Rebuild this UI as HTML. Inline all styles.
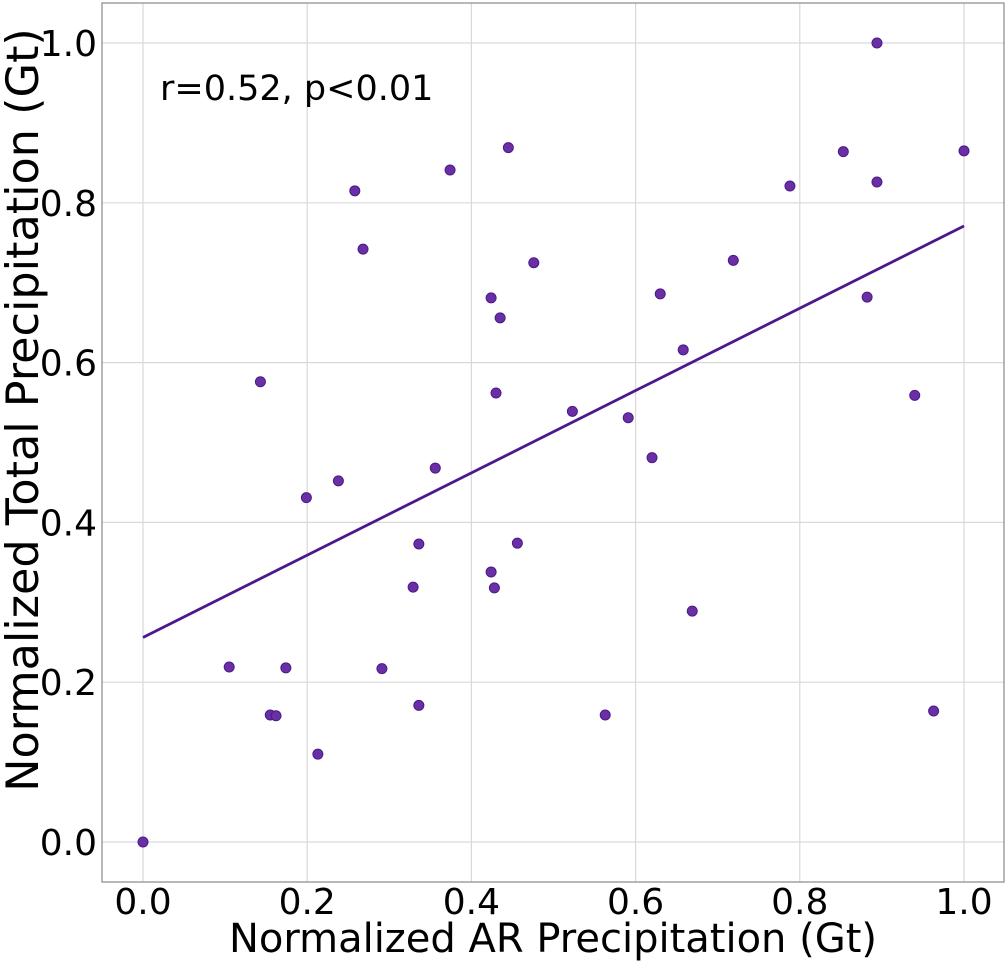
<!DOCTYPE html>
<html><head><meta charset="utf-8">
<style>
html,body{margin:0;padding:0;background:#fff;}
svg{display:block;font-family:"DejaVu Sans","Liberation Sans",sans-serif;}
</style></head>
<body>
<svg id="chart" width="1006" height="963" viewBox="0 0 1006 963" xmlns="http://www.w3.org/2000/svg"></svg>
<script>
const xValues=[0,0.105,0.143,0.155,0.162,0.174,0.199,0.213,0.238,0.258,0.268,0.291,0.329,0.336,0.336,0.356,0.374,0.424,0.424,0.428,0.430,0.435,0.445,0.456,0.476,0.523,0.563,0.591,0.620,0.630,0.658,0.669,0.719,0.788,0.853,0.882,0.894,0.894,0.940,0.963,1.0];
const yValues=[0,0.219,0.576,0.159,0.158,0.218,0.431,0.110,0.452,0.815,0.742,0.217,0.319,0.373,0.171,0.468,0.841,0.681,0.338,0.318,0.562,0.656,0.869,0.374,0.725,0.539,0.159,0.531,0.481,0.686,0.616,0.289,0.728,0.821,0.864,0.682,1.0,0.826,0.559,0.164,0.865];
const fitIntercept=0.256;
const fitSlope=0.515;
const xTicks=[0,0.2,0.4,0.6,0.8,1.0];
const yTicks=[0,0.2,0.4,0.6,0.8,1.0];
const xTickLabels=["0.0","0.2","0.4","0.6","0.8","1.0"];
const yTickLabels=["0.0","0.2","0.4","0.6","0.8","1.0"];

const NS="http://www.w3.org/2000/svg";
const svg=document.getElementById('chart');
const L=102,R=1004,T=3,B=882;
const xs=v=>143+v*821;
const ys=v=>842-v*799;
function mk(tag,attrs,parent){const e=document.createElementNS(NS,tag);for(const k in attrs)e.setAttribute(k,attrs[k]);(parent||svg).appendChild(e);return e;}

const grid=mk('g',{});


xTicks.forEach((t,i)=>{
  const l=mk('line',{x1:xs(t),x2:xs(t),y1:T,y2:B,stroke:'#d9d9d9','stroke-width':1.2},grid);
  
  
  const tx=mk('text',{x:xs(t),y:914,'font-size':36,'text-anchor':'middle',fill:'#000'});
  tx.textContent=xTickLabels[i];
  
  
});
yTicks.forEach((t,i)=>{
  const l=mk('line',{x1:L,x2:R,y1:ys(t),y2:ys(t),stroke:'#d9d9d9','stroke-width':1.2},grid);
  
  
  const tx=mk('text',{x:97,y:ys(t)+13,'font-size':36,'text-anchor':'end',fill:'#000'});
  tx.textContent=yTickLabels[i];
  
  
});
const frame=mk('rect',{x:L,y:T,width:R-L,height:B-T,fill:'none',stroke:'#888','stroke-width':1.2});



const fit=mk('line',{x1:xs(0),y1:ys(fitIntercept),x2:xs(1),y2:ys(fitIntercept+fitSlope),stroke:'#4a1a8c','stroke-width':2.8});



xValues.forEach((x,i)=>{
  const c=mk('circle',{cx:xs(x),cy:ys(yValues[i]),r:5,fill:'#6a2fa3',stroke:'#4a1a8c','stroke-width':1});
  
  
});

const ann=mk('text',{x:160,y:100,'font-size':35,fill:'#000'});
ann.textContent='r=0.52, p<0.01';



const xt=mk('text',{x:553,y:952,'font-size':40,'text-anchor':'middle',fill:'#000'});
xt.textContent='Normalized AR Precipitation (Gt)';


const yt=mk('text',{x:0,y:0,'font-size':44.5,'text-anchor':'middle',fill:'#000',transform:'translate(38,410) rotate(-90)'});
yt.textContent='Normalized Total Precipitation (Gt)';


</script>
</body></html>
